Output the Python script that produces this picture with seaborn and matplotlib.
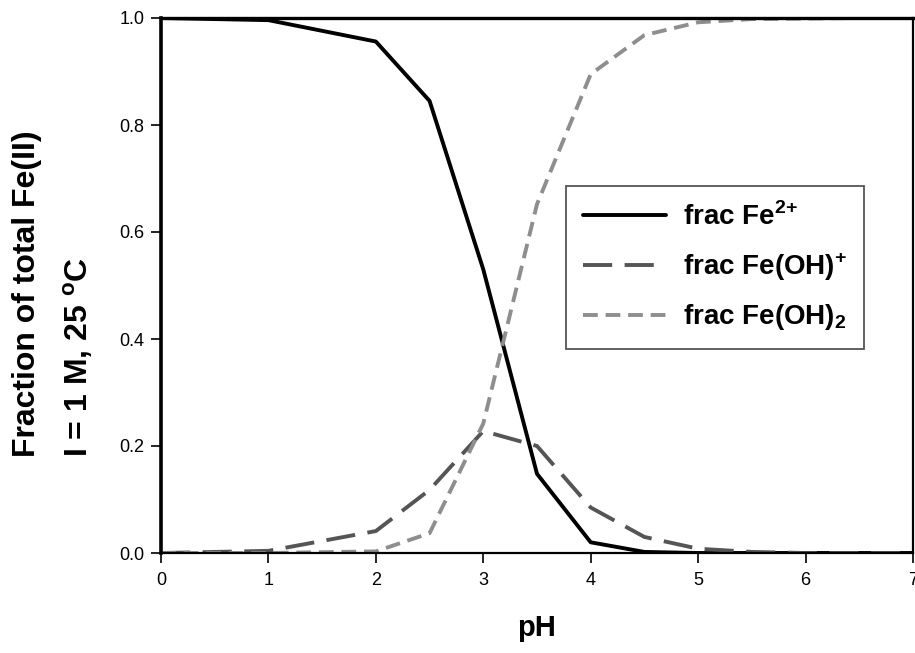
import matplotlib
matplotlib.use("Agg")
import matplotlib.pyplot as plt
import pandas as pd
import seaborn as sns

# pH points and species fractions
ph = [0, 1, 2, 2.5, 3, 3.5, 4, 4.5, 5, 5.5, 6, 6.5, 7]
frac_fe2 = [1.0, 0.996, 0.956, 0.845, 0.53, 0.148, 0.02, 0.002, 0.0, 0.0, 0.0, 0.0, 0.0]
frac_feoh = [0.0, 0.004, 0.041, 0.118, 0.228, 0.2, 0.085, 0.03, 0.008, 0.002, 0.0, 0.0, 0.0]
frac_feoh2 = [0.0, 0.0, 0.003, 0.037, 0.242, 0.652, 0.895, 0.968, 0.992, 0.998, 0.999, 1.0, 1.0]

labels = [r"frac Fe$^{\mathbf{2{+}}}$", r"frac Fe(OH)$^{\mathbf{{+}}}$", r"frac Fe(OH)$_{\mathbf{2}}$"]
colors = ["#000000", "#555555", "#8e8e8e"]
styles = ["-", (0, (7.5, 3.2)), (0, (3.8, 2.0))]

df = pd.DataFrame({"pH": ph, labels[0]: frac_fe2, labels[1]: frac_feoh, labels[2]: frac_feoh2})

sns.set_style("ticks")
plt.rcParams["font.family"] = ["Liberation Sans", "DejaVu Sans"]
plt.rcParams["mathtext.fontset"] = "custom"
plt.rcParams["mathtext.rm"] = "Liberation Sans"
plt.rcParams["mathtext.bf"] = "Liberation Sans:bold"
plt.rcParams["text.color"] = "black"
plt.rcParams["axes.labelcolor"] = "black"
plt.rcParams["xtick.color"] = "black"
plt.rcParams["ytick.color"] = "black"

fig = plt.figure(figsize=(9.15, 6.53), dpi=100)
ax = fig.add_axes([161 / 915, 100 / 653, 752 / 915, 535 / 653])

for lab, c, ls in zip(labels, colors, styles):
    sns.lineplot(data=df, x="pH", y=lab, ax=ax, color=c, linestyle=ls, linewidth=2.8, label=lab)

ax.set_xlim(0, 7)
ax.set_ylim(0, 1.0)
ax.set_xticks(range(8))
ax.set_yticks([0.0, 0.2, 0.4, 0.6, 0.8, 1.0])
ax.set_yticklabels(["0.0", "0.2", "0.4", "0.6", "0.8", "1.0"])
ax.tick_params(axis="both", labelsize=13, length=7, width=1.2, colors="black", direction="out")
ax.tick_params(axis="x", pad=7)
ax.tick_params(axis="y", pad=5)

for side in ["top", "right", "bottom"]:
    ax.spines[side].set_visible(True)
    ax.spines[side].set_color("black")
    ax.spines[side].set_linewidth(1.6)
ax.spines["left"].set_color("black")
ax.spines["left"].set_linewidth(2.6)
ax.spines["top"].set_linewidth(2.4)

ax.set_xlabel("pH", fontsize=21, fontweight="bold", labelpad=18)
ax.set_ylabel("")

fig.text(35 / 915, 1 - 457 / 653, "Fraction of total Fe(II)", rotation=90, rotation_mode="anchor",
         ha="left", va="baseline", fontsize=23, fontweight="bold")
fig.text(88 / 915, 1 - 457 / 653, r"I = 1 M, 25 $^{\mathbf{o}}$C", rotation=90, rotation_mode="anchor",
         ha="left", va="baseline", fontsize=23, fontweight="bold")

leg = ax.legend(loc="upper left", bbox_to_anchor=(0.539, 0.686), frameon=True, fancybox=False,
                edgecolor="#555555", framealpha=1, handlelength=3.0, handletextpad=0.6,
                borderpad=0.6, labelspacing=0.7, borderaxespad=0,
                prop={"size": 20, "weight": "bold"})
leg.get_frame().set_linewidth(1.3)
for t in leg.get_texts():
    t.set_color("black")

fig.savefig("out.png", dpi=100)
